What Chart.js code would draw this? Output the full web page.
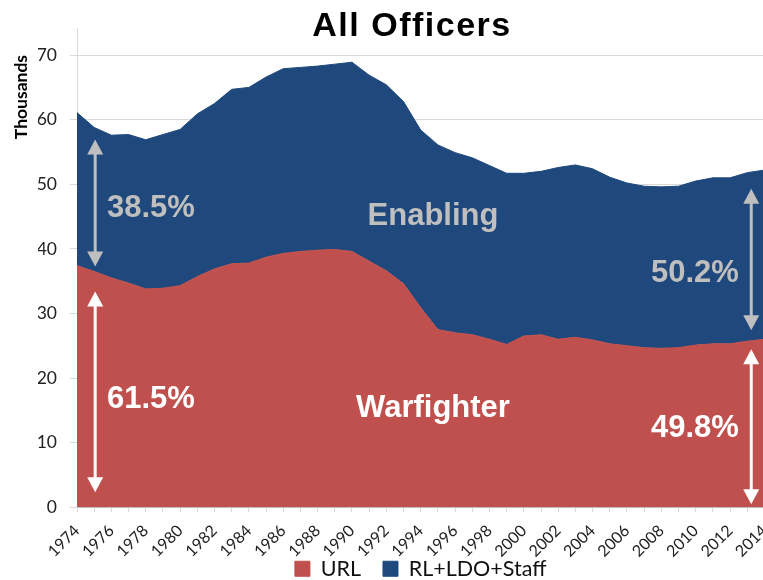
<!DOCTYPE html>
<html>
<head>
<meta charset="utf-8">
<script src="https://cdn.jsdelivr.net/npm/chart.js@4/dist/chart.umd.min.js"></script>
<style>
  html, body { margin: 0; padding: 0; background: #fff; overflow: hidden; }
  #wrap { width: 787px; height: 580px; position: relative; }
</style>
</head>
<body>
<div id="wrap"><canvas id="grafico"></canvas></div>
<script>
// años del eje X
const anios = ['1974','1975','1976','1977','1978','1979','1980','1981','1982','1983',
               '1984','1985','1986','1987','1988','1989','1990','1991','1992','1993',
               '1994','1995','1996','1997','1998','1999','2000','2001','2002','2003',
               '2004','2005','2006','2007','2008','2009','2010','2011','2012','2013','2014'];

// URL (Warfighter), miles
const url = [37.4, 36.5, 35.5, 34.7, 33.8, 33.9, 34.3, 35.7, 36.9, 37.7,
             37.8, 38.7, 39.3, 39.6, 39.8, 39.9, 39.6, 38.1, 36.6, 34.6,
             30.9, 27.5, 27.0, 26.7, 26.0, 25.2, 26.5, 26.7, 26.0, 26.3,
             25.9, 25.3, 25.0, 24.7, 24.6, 24.7, 25.1, 25.3, 25.3, 25.7, 26.0];

// RL+LDO+Staff (Enabling), miles, apilado encima de URL
const staff = [23.7, 22.3, 22.1, 23.0, 23.1, 23.8, 24.2, 25.2, 25.6, 27.0,
               27.2, 27.9, 28.6, 28.5, 28.5, 28.7, 29.3, 28.8, 28.8, 28.2,
               27.5, 28.6, 27.9, 27.4, 26.9, 26.5, 25.2, 25.3, 26.6, 26.7,
               26.5, 25.8, 25.2, 25.0, 25.0, 25.0, 25.4, 25.7, 25.7, 26.1, 26.2];

// textos de anotación
const pctInicio = ['38.5%', '61.5%'];
const pctFinal = ['50.2%', '49.8%'];

const ROJO = '#C0504D';
const AZUL = '#1F497D';
const GRIS = '#BFBFBF';

// dibuja una flecha vertical con punta en ambos extremos
function flecha(ctx, x, y1, y2, color) {
    const ancho = 8, largo = 15;
    ctx.save();
    ctx.strokeStyle = color;
    ctx.fillStyle = color;
    ctx.lineWidth = 3;
    ctx.beginPath();
    ctx.moveTo(x, y1 + largo - 1);
    ctx.lineTo(x, y2 - largo + 1);
    ctx.stroke();
    ctx.beginPath();
    ctx.moveTo(x, y1);
    ctx.lineTo(x - ancho, y1 + largo);
    ctx.lineTo(x + ancho, y1 + largo);
    ctx.closePath();
    ctx.fill();
    ctx.beginPath();
    ctx.moveTo(x, y2);
    ctx.lineTo(x - ancho, y2 - largo);
    ctx.lineTo(x + ancho, y2 - largo);
    ctx.closePath();
    ctx.fill();
    ctx.restore();
}

const anotaciones = {
    id: 'anotaciones',
    afterLayout(chart) {
        // la leyenda queda pegada a las etiquetas del eje X, como en el original
        chart.legend.top -= 34;
    },
    afterDatasetsDraw(chart) {
        const ctx = chart.ctx;
        const xs = chart.scales.x;
        const ys = chart.scales.y;

        // flechas a la izquierda (1975) y derecha (2013)
        const xi = xs.getPixelForValue(1) + 1;
        const xd = xs.getPixelForValue(39) + 4;
        flecha(ctx, xi, ys.getPixelForValue(url[1] + staff[1]) + 12, ys.getPixelForValue(url[1]) - 5, GRIS);
        flecha(ctx, xi, ys.getPixelForValue(url[1]) + 20, ys.getPixelForValue(0) - 15, '#FFFFFF');
        flecha(ctx, xd, ys.getPixelForValue(url[39] + staff[39]) + 16, ys.getPixelForValue(url[39]) - 11, GRIS);
        flecha(ctx, xd, ys.getPixelForValue(url[39]) + 8, ys.getPixelForValue(0) - 3, '#FFFFFF');

        ctx.save();
        ctx.font = 'bold 31px "Liberation Sans", Arial, sans-serif';
        ctx.textBaseline = 'alphabetic';
        ctx.textAlign = 'left';
        ctx.fillStyle = GRIS;
        ctx.fillText(pctInicio[0], 107, 217);
        ctx.fillText(pctFinal[0], 651, 282);
        ctx.fillStyle = '#FFFFFF';
        ctx.fillText(pctInicio[1], 107, 408);
        ctx.fillText(pctFinal[1], 651, 437);

        ctx.textAlign = 'center';
        ctx.fillStyle = GRIS;
        ctx.fillText('Enabling', 433, 225);
        ctx.fillStyle = '#FFFFFF';
        ctx.fillText('Warfighter', 433, 417);

        // título
        ctx.fillStyle = '#000000';
        ctx.font = 'bold 34px "Liberation Sans", Arial, sans-serif';
        ctx.letterSpacing = '1.5px';
        ctx.fillText('All Officers', 412, 36);
        ctx.letterSpacing = '0px';

        // título del eje Y, arriba
        ctx.translate(27, 55);
        ctx.rotate(-Math.PI / 2);
        ctx.textAlign = 'right';
        ctx.font = 'bold 17.5px Lato, "Open Sans", sans-serif';
        ctx.fillStyle = '#000000';
        ctx.fillText('Thousands', 0, 0);
        ctx.restore();
    }
};

new Chart(document.getElementById('grafico'), {
    type: 'line',
    data: {
        labels: anios,
        datasets: [{
            label: 'URL',
            data: url,
            backgroundColor: ROJO,
            borderColor: ROJO,
            borderWidth: 1,
            pointRadius: 0,
            fill: 'origin',
            tension: 0
        }, {
            label: 'RL+LDO+Staff',
            data: staff,
            backgroundColor: AZUL,
            borderColor: AZUL,
            borderWidth: 1,
            pointRadius: 0,
            fill: '-1',
            tension: 0
        }]
    },
    options: {
        responsive: true,
        maintainAspectRatio: false,
        animation: false,
        layout: { padding: { top: 28, left: 38, right: 0, bottom: 0 } },
        scales: {
            x: {
                offset: false,
                grid: { drawOnChartArea: false, tickLength: 5, color: '#D9D9D9' },
                border: { color: '#BFBFBF' },
                ticks: {
                    autoSkip: false,
                    maxRotation: 45,
                    minRotation: 45,
                    padding: 9,
                    color: '#222',
                    font: { family: 'Lato, "Open Sans", sans-serif', size: 16 },
                    callback: function (v, i) {
                        return i % 2 === 0 ? anios[i] : '';
                    }
                }
            },
            y: {
                stacked: true,
                min: 0,
                max: 74.2,
                afterFit: function (s) { s.width = 39; },
                grid: { color: '#D9D9D9', tickLength: 7 },
                border: { color: '#D9D9D9' },
                ticks: {
                    stepSize: 10,
                    includeBounds: false,
                    padding: 13,
                    color: '#222',
                    font: { family: 'Lato, "Open Sans", sans-serif', size: 17.5 }
                }
            }
        },
        plugins: {
            legend: {
                position: 'bottom',
                fullSize: false,
                maxHeight: 10,
                labels: {
                    boxWidth: 15,
                    boxHeight: 15,
                    padding: 22,
                    color: '#111',
                    font: { family: 'Lato, "Open Sans", sans-serif', size: 21.5 }
                }
            },
            tooltip: { enabled: false }
        }
    },
    plugins: [anotaciones]
});
</script>
</body>
</html>
